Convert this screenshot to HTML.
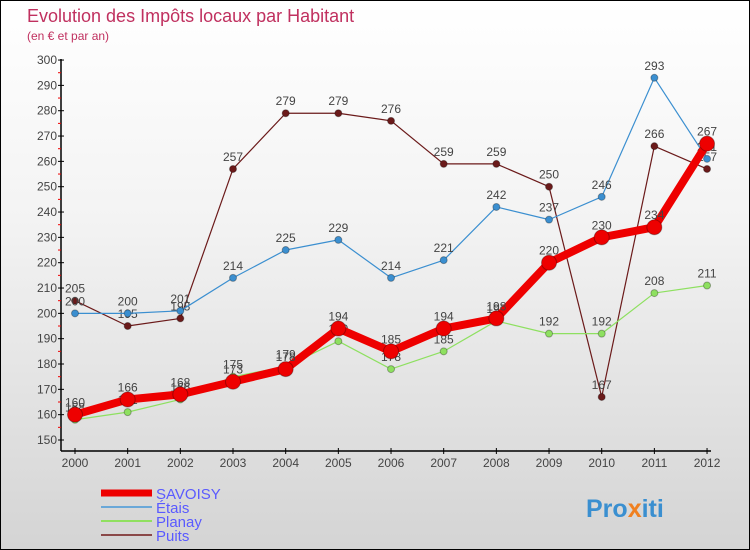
<!DOCTYPE html>
<html><head><meta charset="utf-8"><style>
body{margin:0}
#c{width:748px;height:548px;border:1px solid #000;background:linear-gradient(#fff,#f3f3f3 40%,#d4d4d4);position:relative;font-family:"Liberation Sans",sans-serif;overflow:hidden}
svg text{font-family:"Liberation Sans",sans-serif}
</style></head><body>
<div id="c">
<svg id="s" width="748" height="548">
<text x="26" y="21" font-size="18" fill="#c0305f">Evolution des Impôts locaux par Habitant</text>
<text x="26" y="39" font-size="12" fill="#c0305f">(en € et par an)</text>
<g id="axes"></g><g id="series"></g><g id="legend"></g>
<text x="585" y="516" font-size="25" font-weight="bold" fill="#3a8fd0">Pro<tspan fill="#f08020">x</tspan>iti</text>
</svg></div>
<script>
const years=[2000,2001,2002,2003,2004,2005,2006,2007,2008,2009,2010,2011,2012];
const savoisy=[160,166,168,173,178,194,185,194,198,220,230,234,267];
const etais=[200,200,201,214,225,229,214,221,242,237,246,293,261];
const planay=[158,161,166,175,179,189,178,185,197,192,192,208,211];
const puits=[205,195,198,257,279,279,276,259,259,250,167,266,257];
const yTicks=[150,160,170,180,190,200,210,220,230,240,250,260,270,280,290,300];
const NS="http://www.w3.org/2000/svg";
const X=i=>74+i*52.67, Y=v=>439-(v-150)*2.533;
function mk(t,a,p){const e=document.createElementNS(NS,t);for(const k in a)e.setAttribute(k,a[k]);p.appendChild(e);return e;}
const ax=document.getElementById('axes');
let e=mk('line',{x1:60,y1:58,x2:60,y2:450,stroke:'#000','stroke-width':1.5},ax);

e=mk('line',{x1:60,y1:450,x2:710,y2:450,stroke:'#000','stroke-width':1.5},ax);

yTicks.forEach(v=>{mk('line',{x1:57,x2:63,y1:Y(v),y2:Y(v),stroke:'#000'},ax);
 if(v<300)mk('line',{x1:57,x2:60,y1:Y(v+5),y2:Y(v+5),stroke:'#e00'},ax);
 const t=mk('text',{x:56,y:Y(v)+4,'font-size':12,fill:'#444','text-anchor':'end'},ax);t.textContent=v;
 });
years.forEach((y,i)=>{mk('line',{x1:X(i),x2:X(i),y1:447,y2:453,stroke:'#000'},ax);
 const t=mk('text',{x:X(i),y:466,'font-size':12,fill:'#444','text-anchor':'middle'},ax);t.textContent=y;
 });
const sg=document.getElementById('series');
function draw(d,col,w,r,name){const g=mk('g',{},sg);
 
 mk('polyline',{points:d.map((v,i)=>X(i)+','+Y(v)).join(' '),fill:'none',stroke:col,'stroke-width':w,'stroke-linejoin':'round'},g);
 d.forEach((v,i)=>{const c=mk('circle',{cx:X(i),cy:Y(v),r:r,fill:col,stroke:'rgba(0,0,0,0.3)'},g);
  
  const t=mk('text',{x:X(i),y:Y(v)-8,'font-size':12,fill:'#444','text-anchor':'middle'},g);t.textContent=v;});}
draw(puits,'#6b1a1a',1.2,3.5,'puits');
draw(etais,'#3b8fd0',1.2,3.5,'etais');
draw(planay,'#8ee060',1.2,3.5,'planay');
draw(savoisy,'#ee0000',8,7.5,'savoisy');
const lg=document.getElementById('legend');
[['SAVOISY','#ee0000',7],['Étais','#6aa8d8',2],['Planay','#90e060',2],['Puits','#8a4848',2]].forEach((l,i)=>{
 const y=492+i*14;const g=mk('g',{},lg);
 
 mk('line',{x1:100,x2:151,y1:y,y2:y,stroke:l[1],'stroke-width':l[2]},g);
 const t=mk('text',{x:155,y:y+6,'font-size':15,fill:'#5a5aff'},g);t.textContent=l[0];});
</script></body></html>
